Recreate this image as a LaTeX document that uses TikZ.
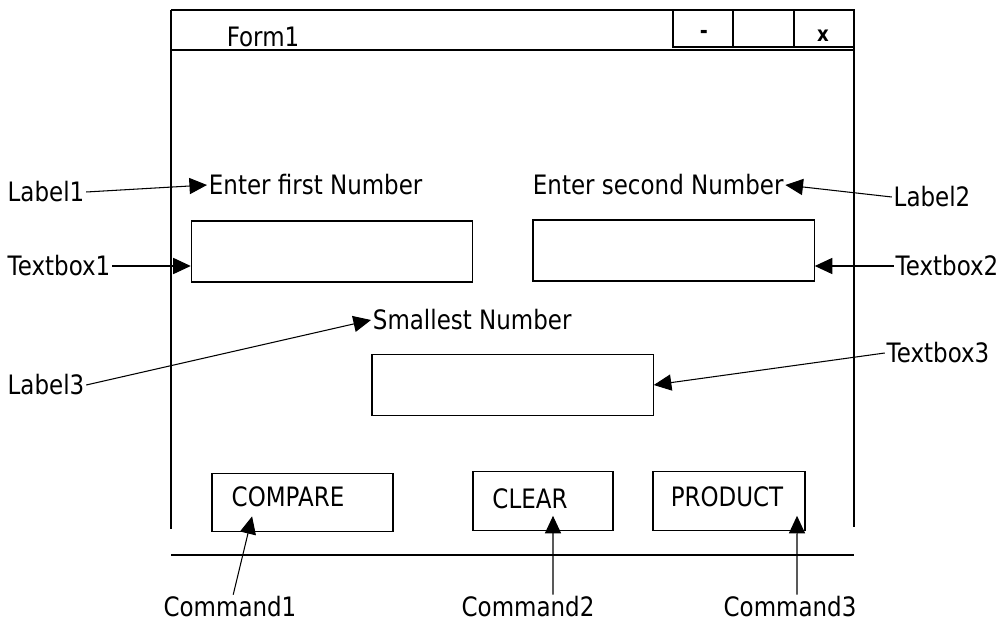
\documentclass[tikz,border=0pt]{standalone}
\usepackage{fontspec}
\setmainfont[FakeStretch=0.86]{DejaVu Sans}
\usetikzlibrary{arrows.meta}

\tikzset{every picture/.style={line width=0.75pt}}
\tikzset{
  pointer/.style={-{Triangle[length=12.5pt,width=11.5pt]}, line width=0.75pt},
  txtbox/.style={draw, line width=0.9pt, minimum width=7.03cm, minimum height=1.52cm, inner sep=0pt},
  cmdbtn/.style={draw, line width=0.9pt, minimum height=1.46cm, inner sep=0pt},
  caption/.style={inner sep=1pt, font=\fontsize{19}{22}\selectfont},
}

\begin{document}
\begin{tikzpicture}[x=0.025cm, y=-0.025cm]
    \useasboundingbox (0,0) rectangle (1004,629);
    % window frame
    \draw[line width=0.9pt] (171,10) -- (854,10);
    \draw[line width=0.9pt] (171,50) -- (854,50);
    \draw[line width=0.9pt] (171,10) -- (171,529);
    \draw[line width=0.9pt] (854,10) -- (854,527);
    \draw[line width=0.9pt] (171,555) -- (854,555);
    \draw (673,10) rectangle (854,47);
    \draw (733,10) -- (733,47);
    \draw (794,10) -- (794,47);
    \node[caption] (title) at (263,37) {Form1};
    \node[font=\fontsize{16}{18}\selectfont\bfseries] (minbtn) at (704,34) {-};
    \node[font=\fontsize{15}{17}\selectfont\bfseries] (closebtn) at (823,36) {x};
    % controls on the form
    \node[caption, anchor=west] (lbl1) at (207,185) {Enter first Number};
    \node[caption, anchor=west] (lbl2) at (531,185) {Enter second Number};
    \node[txtbox] (tb1) at (332,251.5) {};
    \node[txtbox] (tb2) at (673.5,250.5) {};
    \node[caption, anchor=west] (lbl3) at (371,320) {Smallest Number};
    \node[txtbox] (tb3) at (512.5,385) {};
    \node[cmdbtn, minimum width=4.525cm] (btn1) at (302.5,502.5) {};
    \node[cmdbtn, minimum width=3.5cm] (btn2) at (543,501) {};
    \node[cmdbtn, minimum width=3.8cm] (btn3) at (729,501) {};
    \node[caption] (btn1txt) at (288,497) {COMPARE};
    \node[caption] (btn2txt) at (530,499) {CLEAR};
    \node[caption] (btn3txt) at (727,497) {PRODUCT};
    % outside captions
    \node[caption] (lab1) at (46,192) {Label1};
    \node[caption] (out1) at (59,266) {Textbox1};
    \node[caption] (lab2) at (932,197) {Label2};
    \node[caption] (out2) at (947,266) {Textbox2};
    \node[caption] (lab3) at (46,385) {Label3};
    \node[caption] (out3) at (938,353) {Textbox3};
    \node[caption] (cmd1) at (230,607) {Command1};
    \node[caption] (cmd2) at (528,607) {Command2};
    \node[caption] (cmd3) at (790,607) {Command3};
    % pointers
    \draw[pointer] (lab1.east) -- (lbl1.west);
    \draw[pointer] (lab2.west) -- (lbl2.east);
    \draw[pointer] (out1.east) -- (out1.east -| tb1.west);
    \draw[pointer] (out2.west) -- (out2.west -| tb2.east);
    \draw[pointer] (lab3.east) -- (lbl3.west);
    \draw[pointer] (out3.west) -- (tb3.east);
    \draw[pointer] ([xshift=0.08cm]cmd1.north) -- ([xshift=-1.26cm,yshift=0.4cm]btn1.south);
    \draw[pointer] ([xshift=0.625cm]cmd2.north) -- ([xshift=0.25cm,yshift=0.375cm]btn2.south);
    \draw[pointer] ([xshift=0.175cm]cmd3.north) -- ([xshift=1.7cm,yshift=0.375cm]btn3.south);
\end{tikzpicture}
\end{document}
